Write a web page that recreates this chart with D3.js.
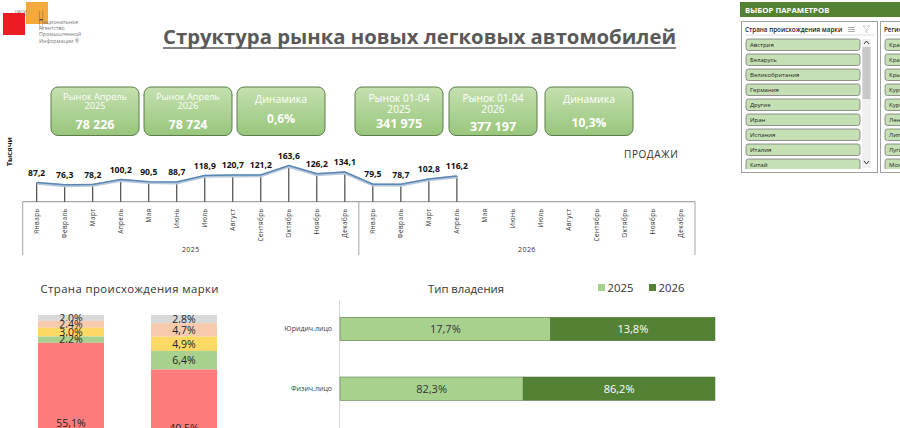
<!DOCTYPE html>
<html>
<head>
<meta charset="utf-8">
<script src="https://cdn.jsdelivr.net/npm/d3@7"></script>
<style>
  body { margin: 0; background: #fff; }
  svg { display: block; font-family: "Open Sans", "DejaVu Sans", sans-serif; }
</style>
</head>
<body>
<div id="dash"></div>
<script>
// ---- data ----
const months = ["Январь","Февраль","Март","Апрель","Мая","Июнь","Июль","Август","Сентябрь","Октябрь","Ноябрь","Декабрь"];
const years = ["2025","2026"];
const sales2025 = [87.2,76.3,78.2,100.2,90.5,88.7,118.9,120.7,121.2,163.6,126.2,134.1];
const sales2026 = [79.5,78.7,102.8,116.2];

const kpiTitles = [["Рынок Апрель","2025"],["Рынок Апрель","2026"],["Динамика"],["Рынок 01-04","2025"],["Рынок 01-04","2026"],["Динамика"]];
const kpiValues = ["78 226","78 724","0,6%","341 975","377 197","10,3%"];

// segments of the origin chart, top to bottom (names not shown on the chart)
const originKeys = ["Прочие","Группа 4","Группа 3","Группа 2","Группа 1"];
const origin2025 = [2.0,2.4,3.0,2.2,55.1];
const origin2026 = [2.8,4.7,4.9,6.4,40.5];

const ownerCats = ["Юридич.лицо","Физич.лицо"];
const owner2025 = [17.7,82.3];
const owner2026 = [13.8,86.2];

const slicerCountries = ["Австрия","Беларусь","Великобритания","Германия","Другие","Иран","Испания","Италия","Китай"];
const slicerRegions = ["Краснодарский край","Красноярский край","Крым","Курганская обл.","Курская обл.","Ленинградская обл.","Липецкая обл.","Луганская НР","Москва"];

// ---- setup ----
const W = 900, H = 428;
const fmt = v => d3.format(".1f")(v).replace(".", ",");
const svg = d3.select("#dash").append("svg").attr("width", W).attr("height", H);
const defs = svg.append("defs");

// logo
svg.append("rect").attr("x", 3).attr("y", 13).attr("width", 22).attr("height", 22).attr("fill", "#ec1c24");
svg.append("rect").attr("x", 26).attr("y", 2).attr("width", 22).attr("height", 22).attr("fill", "#f5a83b");
svg.append("text").attr("x", 15).attr("y", 12.5).attr("font-size", 4).attr("fill", "#777").text("НАПИ");
svg.append("text").attr("x", 38.5).attr("y", 29).attr("font-size", 26).attr("font-weight", 300)
  .attr("textLength", 5).attr("lengthAdjust", "spacingAndGlyphs").attr("fill", "#444").text("Н");
[["ациональное", 43.5, 23.5], ["Агентство", 39, 29.5], ["Промышленной", 39, 36], ["Информации ®", 39, 43]]
  .forEach(([t, x, y]) => svg.append("text").attr("x", x).attr("y", y).attr("font-size", 5.3).attr("fill", "#777").text(t));

// title
svg.append("text").attr("x", 163).attr("y", 43.5).attr("font-size", 19).attr("font-weight", 700)
  .attr("fill", "#595959").attr("textLength", 513).attr("lengthAdjust", "spacingAndGlyphs")
  .text("Структура рынка новых легковых автомобилей");
svg.append("line").attr("x1", 163).attr("x2", 676).attr("y1", 48).attr("y2", 48)
  .attr("stroke", "#595959").attr("stroke-width", 1.6);

// ---- KPI boxes ----
const grad = defs.append("linearGradient").attr("id", "kpiGrad").attr("x1", 0).attr("x2", 0).attr("y1", 0).attr("y2", 1);
grad.append("stop").attr("offset", "0%").attr("stop-color", "#c4e0b0");
grad.append("stop").attr("offset", "100%").attr("stop-color", "#98c67b");
const boxX = [51, 144, 237, 355, 449, 545];
const kpi = svg.append("g");
kpiTitles.forEach((lines, i) => {
  const g = kpi.append("g").attr("transform", `translate(${boxX[i]},87)`);
  g.append("rect").attr("width", 88).attr("height", 48.5).attr("rx", 7)
    .attr("fill", "url(#kpiGrad)").attr("stroke", "#5d7d4b").attr("stroke-width", 1);
  const small = i < 3 ? 9.2 : 10.2;
  if (lines.length === 2) {
    const y0 = i < 3 ? 13 : 15;
    g.append("text").attr("x", 44).attr("y", y0).attr("text-anchor", "middle").attr("font-size", small).attr("fill", "#fff").text(lines[0]);
    g.append("text").attr("x", 44).attr("y", y0 + (i < 3 ? 9 : 11)).attr("text-anchor", "middle").attr("font-size", small).attr("fill", "#fff").text(lines[1]);
    g.append("text").attr("x", 44).attr("y", i < 3 ? 41.5 : (i === 3 ? 41 : 44)).attr("text-anchor", "middle")
      .attr("font-size", 12.5).attr("font-weight", 700).attr("fill", "#fff").text(kpiValues[i]);
  } else {
    g.append("text").attr("x", 44).attr("y", 15.5).attr("text-anchor", "middle").attr("font-size", 10.5).attr("fill", "#fff").text(lines[0]);
    g.append("text").attr("x", 44).attr("y", i < 3 ? 35.5 : 39.5).attr("text-anchor", "middle")
      .attr("font-size", 12).attr("font-weight", 700).attr("fill", "#fff").text(kpiValues[i]);
  }
});

// ---- slicer panel ----
svg.append("rect").attr("x", 740).attr("y", 2).attr("width", 160).attr("height", 15).attr("fill", "#548235");
svg.append("text").attr("x", 745).attr("y", 12.8).attr("font-size", 7.8).attr("font-weight", 700)
  .attr("fill", "#fff").text("ВЫБОР ПАРАМЕТРОВ");

function slicer(x0, w, title, items, scroll) {
  const g = svg.append("g");
  const clipId = "clip" + x0;
  defs.append("clipPath").attr("id", clipId).append("rect")
    .attr("x", x0 + 1).attr("y", 22).attr("width", w - 2).attr("height", 147);
  g.append("rect").attr("x", x0 + 0.5).attr("y", 21.5).attr("width", w).attr("height", 151)
    .attr("fill", "#fff").attr("stroke", "#a0a0a0");
  const inner = g.append("g").attr("clip-path", `url(#${clipId})`);
  inner.append("text").attr("x", x0 + 4).attr("y", 31.5).attr("font-size", 6.3).attr("font-weight", 600)
    .attr("fill", "#222").text(title);
  inner.append("line").attr("x1", x0 + 4).attr("x2", x0 + w - 3).attr("y1", 35).attr("y2", 35).attr("stroke", "#ddd");
  const items_g = inner.selectAll("g.item").data(items).join("g").attr("class", "item")
    .attr("transform", (d, i) => `translate(${x0 + 5},${39 + i * 15})`);
  items_g.append("rect").attr("width", scroll ? 114 : 110).attr("height", 11.5).attr("rx", 2.5)
    .attr("fill", "#c5e0b4").attr("stroke", "#7a7a7a").attr("stroke-width", 0.8);
  items_g.append("text").attr("x", 4).attr("y", 8.3).attr("font-size", 6).attr("fill", "#222").text(d => d);
  if (scroll) {
    inner.append("rect").attr("x", x0 + 121).attr("y", 39).attr("width", 9).attr("height", 129).attr("fill", "#f0f0f0");
    inner.append("rect").attr("x", x0 + 121.5).attr("y", 47).attr("width", 8).attr("height", 52).attr("fill", "#c8c8c8");
    inner.append("path").attr("d", `M${x0 + 123},${44} l2.5,-3 l2.5,3`).attr("fill", "none").attr("stroke", "#333").attr("stroke-width", 1);
    inner.append("path").attr("d", `M${x0 + 123},${161} l2.5,3 l2.5,-3`).attr("fill", "none").attr("stroke", "#333").attr("stroke-width", 1);
    // header icons
    const ic = inner.append("g").attr("stroke", "#888").attr("stroke-width", 0.7);
    [27.5, 29.5, 31.5].forEach(y => ic.append("line").attr("x1", x0 + 107).attr("x2", x0 + 114).attr("y1", y).attr("y2", y));
    ic.append("path").attr("d", `M${x0 + 122},${26} h7 l-3,3 v4 l-1,-1 v-3 z`).attr("fill", "none").attr("stroke", "#bbb");
  }
}
slicer(741, 136, "Страна происхождения марки", slicerCountries, true);
slicer(880, 30, "Регион", slicerRegions, false);

// ---- monthly sales line ----
const keys = years.flatMap(y => months.map(m => y + "|" + m));
const salesData = sales2025.map((v, i) => ({ key: "2025|" + months[i], v }))
  .concat(sales2026.map((v, i) => ({ key: "2026|" + months[i], v })));

const axisY = 201.7;
const x = d3.scaleBand().domain(keys).range([22.7, 695]);
const y = d3.scaleLinear().domain([0, 200]).range([axisY, 157.5]);
const cx = k => x(k) + x.bandwidth() / 2;

svg.append("text").attr("transform", "translate(11.5,151.7) rotate(-90)").attr("text-anchor", "middle")
  .attr("font-size", 7.5).attr("font-weight", 700).attr("fill", "#222").text("Тысячи");
svg.append("text").attr("x", 624).attr("y", 158.3).attr("font-size", 10).attr("letter-spacing", 0.6)
  .attr("fill", "#333").text("ПРОДАЖИ");

const ax = svg.append("g").attr("transform", `translate(0,${axisY})`)
  .call(d3.axisBottom(x).tickSize(0).tickFormat(d => d.split("|")[1]));
ax.select(".domain").remove();
ax.selectAll("text").attr("transform", "rotate(-90)").attr("x", -6.5).attr("y", 0).attr("dy", "0.35em")
  .attr("text-anchor", "end").attr("font-size", 6.4).attr("letter-spacing", 0.45).attr("fill", "#333")
  .attr("font-family", "\"Open Sans\", sans-serif");

const grid = svg.append("g").attr("stroke", "#a6a6a6").attr("stroke-width", 1.3);
grid.append("line").attr("x1", x.range()[0]).attr("x2", x.range()[1]).attr("y1", axisY).attr("y2", axisY);
[0, 12, 24].forEach(i => {
  const xx = i < 24 ? x(keys[i]) : x.range()[1];
  grid.append("line").attr("x1", xx).attr("x2", xx).attr("y1", axisY).attr("y2", 255).attr("stroke-width", 1);
});
years.forEach((yr, j) => {
  const a = x(keys[j * 12]), b = j === 0 ? x(keys[12]) : x.range()[1];
  svg.append("text").attr("x", (a + b) / 2).attr("y", 252).attr("text-anchor", "middle")
    .attr("font-size", 7).attr("letter-spacing", 0.4).attr("fill", "#333").text(yr);
});

svg.append("g").selectAll("line").data(salesData).join("line")
  .attr("x1", d => cx(d.key)).attr("x2", d => cx(d.key))
  .attr("y1", d => y(d.v)).attr("y2", axisY)
  .attr("stroke", "#262626").attr("stroke-width", 1);

const line = d3.line().x(d => cx(d.key)).y(d => y(d.v));
svg.append("path").datum(salesData).attr("d", line).attr("fill", "none")
  .attr("stroke", "#b8c9dc").attr("stroke-width", 3.2).attr("transform", "translate(0,0.8)");
svg.append("path").datum(salesData).attr("d", line).attr("fill", "none")
  .attr("stroke", "#5b87b5").attr("stroke-width", 1.5);

svg.append("g").selectAll("text").data(salesData).join("text")
  .attr("x", d => cx(d.key)).attr("y", d => y(d.v) - 6.8).attr("text-anchor", "middle")
  .attr("font-size", 8.6).attr("font-weight", 700).attr("fill", "#111").text(d => fmt(d.v));

// ---- origin stacked columns ----
svg.append("text").attr("x", 40.5).attr("y", 293.3).attr("font-size", 11.3).attr("fill", "#333")
  .attr("textLength", 178).text("Страна происхождения марки");
const originColors = d3.scaleOrdinal().domain(originKeys).range(["#d9d9d9", "#f8cbad", "#ffd966", "#a9d18e", "#ff7c7c"]);
const originRows = years.map((yr, j) => {
  const r = { year: yr };
  originKeys.forEach((k, i) => r[k] = (j === 0 ? origin2025 : origin2026)[i]);
  return r;
});
const ox = d3.scaleBand().domain(years).range([38, 217]).paddingInner(0.416).paddingOuter(0);
const oy = d3.scaleLinear().domain([0, 100]).range([315, 605]);
const oStack = d3.stack().keys(originKeys)(originRows);
const og = svg.append("g").selectAll("g").data(oStack).join("g").attr("fill", d => originColors(d.key));
og.selectAll("rect").data(d => d).join("rect")
  .attr("x", d => ox(d.data.year)).attr("width", ox.bandwidth())
  .attr("y", d => oy(d[0])).attr("height", d => oy(d[1]) - oy(d[0]));
og.selectAll("text").data(d => d).join("text")
  .attr("x", d => ox(d.data.year) + ox.bandwidth() / 2)
  .attr("y", d => (oy(d[0]) + oy(d[1])) / 2).attr("dy", "0.36em").attr("text-anchor", "middle")
  .attr("font-size", 10.5).attr("fill", "#222").text(d => fmt(d[1] - d[0]) + "%");

// ---- ownership bars ----
svg.append("text").attr("x", 466).attr("y", 293).attr("text-anchor", "middle").attr("font-size", 11.3)
  .attr("fill", "#333").text("Тип владения");
const ownColors = d3.scaleOrdinal().domain(years).range(["#a9d18e", "#548235"]);
[[598, "2025"], [649, "2026"]].forEach(([lx, yr]) => {
  svg.append("rect").attr("x", lx).attr("y", 284).attr("width", 7).attr("height", 7).attr("fill", ownColors(yr));
  svg.append("text").attr("x", lx + 9.5).attr("y", 291.5).attr("font-size", 11.3).attr("fill", "#333").text(yr);
});
const ownRows = ownerCats.map((c, i) => ({ cat: c, "2025": owner2025[i], "2026": owner2026[i] }));
const wy = d3.scaleBand().domain(ownerCats).range([281, 436.7]).paddingInner(0.608).paddingOuter(0.608);
const wx = d3.scaleLinear().domain([0, 1]).range([340, 715]);
const wStack = d3.stack().keys(years).offset(d3.stackOffsetExpand)(ownRows);
svg.append("line").attr("x1", 339.5).attr("x2", 339.5).attr("y1", 300).attr("y2", 428).attr("stroke", "#d9d9d9");
const wg = svg.append("g").selectAll("g").data(wStack).join("g").attr("fill", d => ownColors(d.key));
wg.selectAll("rect").data(d => d).join("rect")
  .attr("y", d => wy(d.data.cat)).attr("height", wy.bandwidth())
  .attr("x", d => wx(d[0])).attr("width", d => wx(d[1]) - wx(d[0]))
  .attr("stroke", "#4a6b35").attr("stroke-width", 0.5);
wg.each(function (s) {
  d3.select(this).selectAll("text").data(s).join("text")
    .attr("x", d => (wx(d[0]) + wx(d[1])) / 2).attr("y", d => wy(d.data.cat) + wy.bandwidth() / 2)
    .attr("dy", "0.36em").attr("text-anchor", "middle").attr("font-size", 11)
    .attr("fill", s.key === "2025" ? "#333" : "#fff").text(d => fmt(d.data[s.key]) + "%");
});
svg.append("g").attr("transform", "translate(340,0)")
  .call(d3.axisLeft(wy).tickSize(0).tickPadding(8))
  .call(g => g.select(".domain").remove())
  .selectAll("text").attr("font-size", 7).attr("fill", "#404040").attr("font-family", "\"Open Sans\", sans-serif");
</script>
</body>
</html>
